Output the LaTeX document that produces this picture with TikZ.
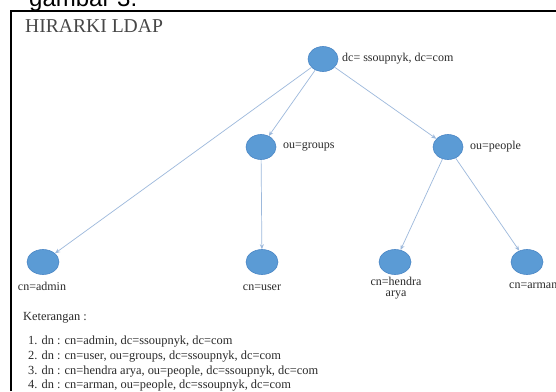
\documentclass[tikz,border=0pt]{standalone}
\usepackage{fontspec}
\setmainfont{Liberation Serif}
\newfontfamily\capfont{Liberation Sans}
\usetikzlibrary{arrows.meta,shapes.geometric}
\definecolor{nodeblue}{HTML}{5B9BD5}
\definecolor{nodeedge}{HTML}{4A86C5}
\definecolor{linkblue}{HTML}{9DB9DC}
\definecolor{inkgray}{HTML}{2A2A2A}
\begin{document}
\begin{tikzpicture}[x=1pt,y=-1pt,
  entry/.style={ellipse, fill=nodeblue, draw=nodeedge, line width=0.6pt,
    minimum width=30pt, minimum height=25pt, inner sep=0pt},
  leaf/.style={entry, minimum width=32pt, minimum height=25pt},
  lbl/.style={font=\fontsize{12}{11}\selectfont, text=inkgray, inner sep=0pt},
  link/.style={draw=linkblue, line width=0.7pt, -{Stealth[length=5pt,width=4pt]}},
  note/.style={font=\fontsize{12.4}{14}\selectfont, text=inkgray, anchor=base west, inner sep=0pt}]
\useasboundingbox (0,0) rectangle (556,391);
\fill[white] (0,0) rectangle (556,391);
% caption of the figure, partly cut by the page edge
\begin{scope}
\clip (0,0) rectangle (556,10);
\node[anchor=base west, inner sep=0pt, font=\capfont\fontsize{24}{26}\selectfont] (cap) at (29,6.5) {gambar 3.};
\end{scope}
% frame
\draw[line width=2.8pt] (11,391) -- (11,11) -- (556,11);
\node[anchor=base west, inner sep=0pt, font=\fontsize{19.6}{21}\selectfont, text=black!72] (title) at (25,32) {HIRARKI LDAP};
% tree entries
\node[entry] (root) at (323,59) {};
\node[entry] (groups) at (261,147) {};
\node[entry] (people) at (448,147) {};
\node[leaf] (admin) at (43,262) {};
\node[leaf] (user) at (262,262) {};
\node[leaf] (hendra) at (395,262) {};
\node[leaf] (arman) at (527,262) {};
% labels
\node[lbl, anchor=west] (lroot) at (342,59) {dc= ssoupnyk, dc=com};
\node[lbl, anchor=west] (lgroups) at (283,147) {ou=groups};
\node[lbl, anchor=west] (lpeople) at (470,147) {ou=people};
\node[lbl, anchor=center] (ladmin) at (42,286) {cn=admin};
\node[lbl, anchor=center] (luser) at (262,288) {cn=user};
\node[lbl, anchor=center, align=center] (lhendra) at (396,288) {cn=hendra\\arya};
\node[lbl, anchor=west] (larman) at (509,286) {cn=arman};
% links
\draw[link] (root) -- (admin);
\draw[link] (root) -- (groups);
\draw[link] (root) -- (people);
\draw[link] (groups) -- (user);
\draw[link] (people) -- (hendra);
\draw[link] (people) -- (arman);
% legend
\node[note] (ket) at (23,320) {Keterangan :};
\node[note] (n1) at (28,344) {1. dn : cn=admin, dc=ssoupnyk, dc=com};
\node[note] (n2) at (28,359) {2. dn : cn=user, ou=groups, dc=ssoupnyk, dc=com};
\node[note] (n3) at (28,374) {3. dn : cn=hendra arya, ou=people, dc=ssoupnyk, dc=com};
\node[note] (n4) at (28,388) {4. dn : cn=arman, ou=people, dc=ssoupnyk, dc=com};
\end{tikzpicture}
\end{document}
